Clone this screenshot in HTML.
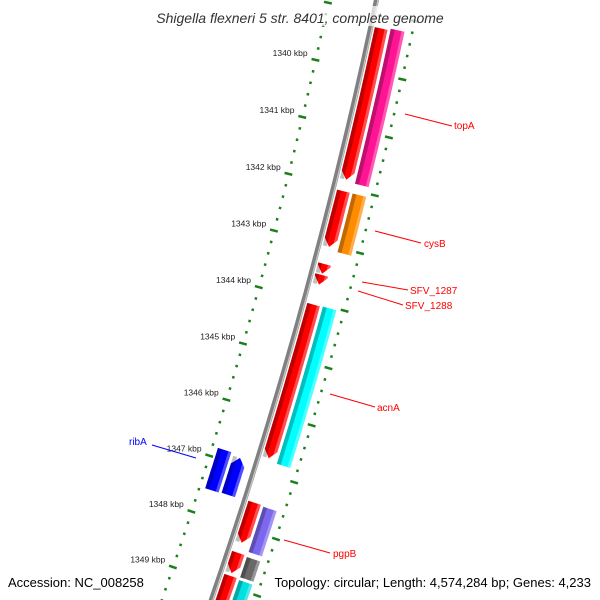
<!DOCTYPE html>
<html><head><meta charset="utf-8"><style>
html,body{margin:0;padding:0;background:#fff;overflow:hidden;width:600px;height:600px}
svg{display:block;overflow:hidden}
text{font-family:"Liberation Sans",sans-serif}
</style></head><body>
<svg id="map" width="600" height="600" viewBox="0 0 600 600" xmlns="http://www.w3.org/2000/svg">
<g id="ticks"></g>
<g id="feats"></g>
<rect x="140" y="6" width="320" height="20" fill="#fff" opacity="0.7"/>
<text x="300" y="23" text-anchor="middle" font-size="14" font-style="italic" fill="#333">Shigella flexneri 5 str. 8401, complete genome</text>
<g id="labels">
<line x1="405" y1="114" x2="452" y2="126" stroke="#f00" stroke-width="1"/>
<text x="454" y="129" font-size="10" fill="#f00">topA</text>
<line x1="375" y1="231" x2="421" y2="243" stroke="#f00" stroke-width="1"/>
<text x="424" y="247" font-size="10" fill="#f00">cysB</text>
<line x1="362" y1="282" x2="408" y2="290" stroke="#f00" stroke-width="1"/>
<text x="410" y="294" font-size="10" fill="#f00">SFV_1287</text>
<line x1="358" y1="291" x2="403" y2="305" stroke="#f00" stroke-width="1"/>
<text x="405" y="309" font-size="10" fill="#f00">SFV_1288</text>
<line x1="330" y1="394" x2="375" y2="407" stroke="#f00" stroke-width="1"/>
<text x="377" y="411" font-size="10" fill="#f00">acnA</text>
<line x1="152" y1="445" x2="196" y2="458" stroke="#00f" stroke-width="1"/>
<text x="129" y="445" font-size="10" fill="#00f">ribA</text>
<line x1="284" y1="540" x2="330" y2="553" stroke="#f00" stroke-width="1"/>
<text x="333" y="557" font-size="10" fill="#f00">pgpB</text>
</g>
<text x="8" y="587" font-size="13" fill="#000">Accession: NC_008258</text>
<text x="591" y="587" text-anchor="end" font-size="13" fill="#000">Topology: circular; Length: 4,574,284 bp; Genes: 4,233</text>
</svg>
<script>
// ---- data ----
const geneStarts = [1339.24, 1339.21, 1342.06, 1342.06, 1343.33, 1343.52, 1344.04, 1344.03, 1346.88, 1346.83, 1347.53, 1347.55, 1348.42, 1348.44, 1348.83, 1348.85];
const geneEnds   = [1341.86, 1341.89, 1343.03, 1343.08, 1343.50, 1343.69, 1346.74, 1346.79, 1347.54, 1347.55, 1348.24, 1348.35, 1348.78, 1348.80, 1350.20, 1350.20];
const geneRings  = [1, 2, 1, 2, 1, 1, 1, 2, -1, -2, 1, 2, 1, 2, 1, 2];
const geneColors = ["#ff0000","#ff1493","#ff0000","#ff8c00","#ff0000","#ff0000","#ff0000","#00ffff","#0000ff","#0000ff","#ff0000","#7b68ee","#ff0000","#696969","#ff0000","#00e0e0"];
const geneArrow  = [1, 0, 1, 0, 1, 1, 1, 0, -1, 0, 1, 0, 1, 0, 1, 0];
const tickLabels = ["1340 kbp","1341 kbp","1342 kbp","1343 kbp","1344 kbp","1345 kbp","1346 kbp","1347 kbp","1348 kbp","1349 kbp"];
const tickValues = [1340,1341,1342,1343,1344,1345,1346,1347,1348,1349];

// ---- geometry ----
const NS = "http://www.w3.org/2000/svg";
const CX = -4499, CY = -1019.8, R = 4981;
const PHI0 = 12.64, DEG_PER_KB = 0.68;
function ang(kb){ return PHI0 + (kb - 1340) * DEG_PER_KB; }
function pt(r, a){ const t = a * Math.PI / 180; return [CX + r * Math.cos(t), CY + r * Math.sin(t)]; }
const ringR = {1:[R+4,R+17], 2:[R+20,R+34], "-1":[R-24,R-10], "-2":[R-41,R-27]};

function arcPts(r, a1, a2, n){
  const out = [];
  for (let i = 0; i <= n; i++){ out.push(pt(r, a1 + (a2 - a1) * i / n)); }
  return out;
}
function featPath(r1, r2, a1, a2, arrow){
  const h = 8 / R * 180 / Math.PI;
  let b1 = a1, b2 = a2;
  if (arrow === 1) b2 = Math.max(a1, a2 - h);
  if (arrow === -1) b1 = Math.min(a2, a1 + h);
  const rm = (r1 + r2) / 2;
  let p = arcPts(r2, b1, b2, 12);
  if (arrow === 1) p.push(pt(rm, a2));
  p = p.concat(arcPts(r1, b2, b1, 12));
  if (arrow === -1) p.push(pt(rm, a1));
  return "M" + p.map(q => q[0].toFixed(1) + "," + q[1].toFixed(1)).join("L") + "Z";
}

const tg = document.getElementById("ticks");
const fg = document.getElementById("feats");

// backbone
(function(){
  const a1 = 11.75, a2 = 19.6;
  const bb = document.createElementNS(NS, "polyline");
  
  
  bb.setAttribute("points", arcPts(R, a1, a2, 40).map(q => q[0].toFixed(1) + "," + q[1].toFixed(1)).join(" "));
  bb.setAttribute("fill", "none");
  bb.setAttribute("stroke", "#808080");
  bb.setAttribute("stroke-width", "5");
  tg.appendChild(bb);
  const hl = document.createElementNS(NS, "polyline");
  
  
  hl.setAttribute("points", arcPts(R + 1.5, a1, a2, 40).map(q => q[0].toFixed(1) + "," + q[1].toFixed(1)).join(" "));
  hl.setAttribute("fill", "none");
  hl.setAttribute("stroke", "#c8c8c8");
  hl.setAttribute("stroke-width", "1.2");
  tg.appendChild(hl);
})();

// ticks
function tickSeg(r1, r2, a, w){
  const p1 = pt(r1, a), p2 = pt(r2, a);
  const l = document.createElementNS(NS, "line");
  
  
  l.setAttribute("x1", p1[0]); l.setAttribute("y1", p1[1]);
  l.setAttribute("x2", p2[0]); l.setAttribute("y2", p2[1]);
  l.setAttribute("stroke", "#1b7f1b");
  l.setAttribute("stroke-width", w);
  tg.appendChild(l);
}
for (let k = 0; k <= 58; k++){
  const kb = 1339.0 + k * 0.2;
  const major = Math.abs(kb - Math.round(kb)) < 0.01;
  const a = ang(kb);
  if (major){
    tickSeg(R - 51, R - 43, a, 2.5);
    tickSeg(R + 38, R + 46, a, 2.5);
  } else {
    tickSeg(R - 48, R - 45.5, a, 2.5);
    tickSeg(R + 40.5, R + 43, a, 2.5);
  }
}
tickValues.forEach((v, i) => {
  const p = pt(R - 55, ang(v));
  const t = document.createElementNS(NS, "text");
  
  
  t.setAttribute("x", p[0].toFixed(1));
  t.setAttribute("y", (p[1] - 2).toFixed(1));
  t.setAttribute("text-anchor", "end");
  t.setAttribute("font-size", "8.5");
  t.setAttribute("fill", "#222");
  t.textContent = tickLabels[i];
  tg.appendChild(t);
});

// features
geneStarts.forEach((s, i) => {
  const rr = ringR[geneRings[i]];
  const a1 = ang(s), a2 = ang(geneEnds[i]);
  const g = document.createElementNS(NS, "g");
  
  
  const main = document.createElementNS(NS, "path");
  
  
  main.setAttribute("d", featPath(rr[0], rr[1], a1, a2, geneArrow[i]));
  main.setAttribute("fill", geneColors[i]);
  g.appendChild(main);
  const dark = document.createElementNS(NS, "path");
  
  
  dark.setAttribute("d", featPath(rr[0], rr[0] + 4, a1, a2, 0));
  dark.setAttribute("fill", "#000");
  dark.setAttribute("opacity", "0.25");
  g.appendChild(dark);
  const lite = document.createElementNS(NS, "path");
  
  
  lite.setAttribute("d", featPath(rr[1] - 3, rr[1], a1, a2, 0));
  lite.setAttribute("fill", "#fff");
  lite.setAttribute("opacity", "0.3");
  g.appendChild(lite);
  fg.appendChild(g);
});
</script>
</body></html>
